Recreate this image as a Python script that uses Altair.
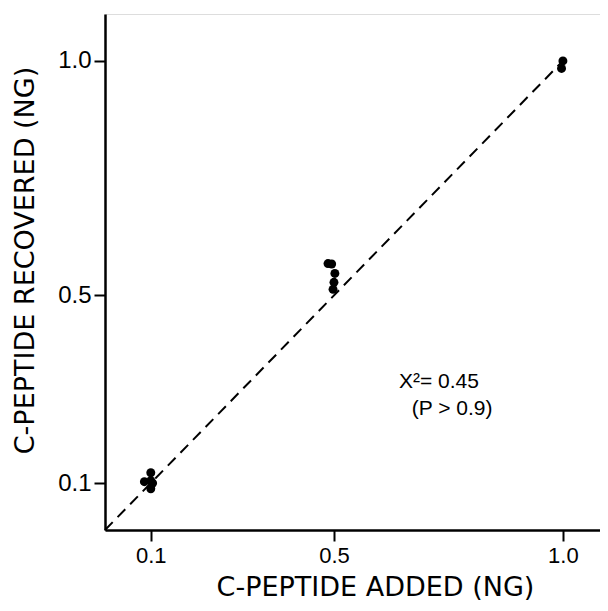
import altair as alt
import pandas as pd

# Data
added = [0.100, 0.100, 0.086, 0.104, 0.100,
         0.487, 0.495, 0.502, 0.500, 0.498,
         1.000, 0.997]
recovered = [0.122, 0.105, 0.103, 0.100, 0.088,
             0.568, 0.567, 0.547, 0.528, 0.513,
             1.000, 0.984]
tick_values = [0.1, 0.5, 1.0]
line_x = [0.0, 1.0]
line_y = [0.0, 1.0]
ann_text = ["X²= 0.45", "(P > 0.9)"]
ann_x = [0.642, 0.670]
ann_y = [0.315, 0.257]

pts = pd.DataFrame({"added": added, "recovered": recovered})
ref = pd.DataFrame({"added": line_x, "recovered": line_y})
ann = pd.DataFrame({"t": ann_text, "x": ann_x, "y": ann_y})

xscale = alt.Scale(domain=[0, 1.081], nice=False, zero=False)
yscale = alt.Scale(domain=[0, 1.1], nice=False, zero=False)

xaxis = alt.Axis(values=tick_values, format=".1f", title="C-PEPTIDE ADDED (NG)",
                 grid=False, tickSize=11, tickWidth=2, tickColor="black",
                 domainWidth=2.5, domainColor="black",
                 labelFont="Liberation Sans", labelFontSize=22, labelColor="black",
                 labelPadding=4, labelFlush=False,
                 titleFont="DejaVu Sans", titleFontSize=27, titleFontWeight="normal",
                 titleColor="black", titleX=270, titleY=65, titleBaseline="alphabetic")
yaxis = alt.Axis(values=tick_values, format=".1f", title="C-PEPTIDE RECOVERED (NG)",
                 grid=False, tickSize=11, tickWidth=2, tickColor="black",
                 domainWidth=2.5, domainColor="black",
                 labelFont="Liberation Sans", labelFontSize=24, labelColor="black",
                 labelPadding=3, labelFlush=False,
                 titleFont="DejaVu Sans", titleFontSize=27, titleFontWeight="normal",
                 titleColor="black", titleX=-72, titleY=246, titleBaseline="alphabetic")

line = alt.Chart(ref).mark_line(color="black", strokeWidth=2, strokeDash=[11, 7]).encode(
    x=alt.X("added:Q", scale=xscale, axis=xaxis),
    y=alt.Y("recovered:Q", scale=yscale, axis=yaxis),
)
points = alt.Chart(pts).mark_circle(color="black", size=80, opacity=1).encode(
    x=alt.X("added:Q", scale=xscale),
    y=alt.Y("recovered:Q", scale=yscale),
)
text = alt.Chart(ann).mark_text(align="left", baseline="middle", font="Liberation Sans",
                                fontSize=21, color="black").encode(
    x=alt.X("x:Q", scale=xscale),
    y=alt.Y("y:Q", scale=yscale),
    text="t:N",
)

chart = alt.layer(line, points, text).properties(
    width=495, height=516,
    autosize=alt.AutoSizeParams(type="none"),
    padding={"left": 97, "top": 6, "right": 0, "bottom": 72},
).configure_view(stroke=None).configure(background="white")

chart.save("out.html", embed_options={"renderer": "svg", "actions": False})
